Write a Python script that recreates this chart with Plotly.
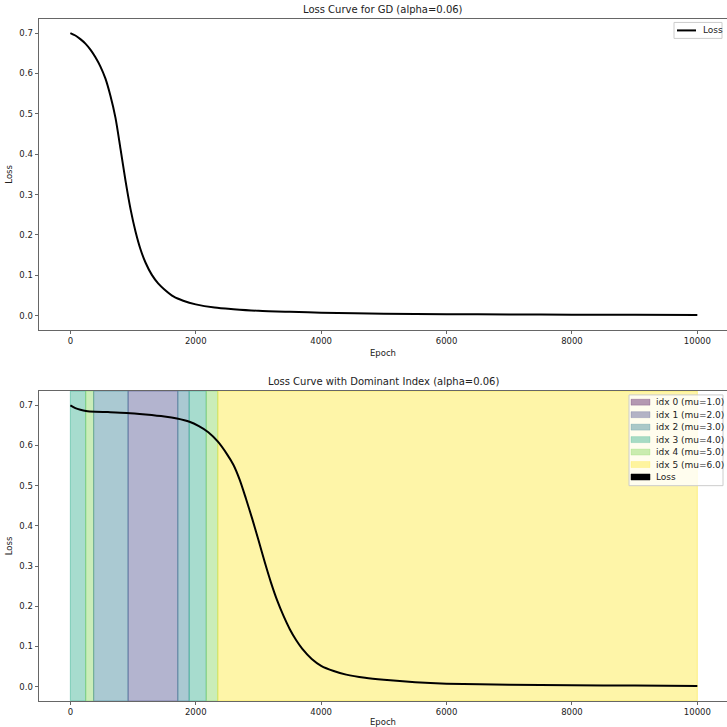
import plotly.graph_objects as go

# ---------------- data ----------------
gd_epochs = [0, 80, 160, 240, 320, 400, 480, 560, 640, 720, 800, 880, 960, 1040, 1120,
             1200, 1300, 1400, 1500, 1650, 1800, 2000, 2300, 2600, 3000, 3500, 4000,
             5000, 6000, 7000, 8000, 9000, 10000]
gd_loss = [0.700, 0.694, 0.685, 0.674, 0.659, 0.640, 0.617, 0.587, 0.544, 0.490, 0.413,
           0.334, 0.264, 0.208, 0.164, 0.131, 0.101, 0.080, 0.065, 0.047, 0.037, 0.028,
           0.020, 0.016, 0.012, 0.0095, 0.0075, 0.005, 0.0038, 0.003, 0.0025, 0.002, 0.0018]

dom_epochs = [0, 80, 160, 250, 400, 600, 900, 1200, 1500, 1700, 1900, 2050, 2200, 2350,
              2500, 2600, 2700, 2800, 2900, 3000, 3100, 3200, 3300, 3400, 3500, 3600,
              3700, 3850, 4000, 4200, 4400, 4700, 5000, 5500, 6000, 7000, 8000, 9000, 10000]
dom_loss = [0.700, 0.693, 0.689, 0.686, 0.684, 0.683, 0.681, 0.677, 0.672, 0.667, 0.659,
            0.648, 0.633, 0.610, 0.578, 0.552, 0.515, 0.468, 0.418, 0.365, 0.310, 0.259,
            0.214, 0.176, 0.143, 0.116, 0.094, 0.069, 0.052, 0.039, 0.030, 0.022, 0.017,
            0.011, 0.0075, 0.005, 0.0035, 0.0027, 0.002]

band_start = [0, 245, 372, 921, 1714, 1895, 2167, 2352]
band_end = [245, 372, 921, 1714, 1895, 2167, 2352, 10000]
band_idx = [3, 4, 2, 1, 2, 3, 4, 5]

mu_values = [1.0, 2.0, 3.0, 4.0, 5.0, 6.0]
idx_colors = ["#440154", "#414487", "#2a788e", "#22a884", "#7ad151", "#fde725"]

x_ticks = [0, 2000, 4000, 6000, 8000, 10000]
x_tick_text = ["0", "2000", "4000", "6000", "8000", "10000"]
y_ticks = [0.0, 0.1, 0.2, 0.3, 0.4, 0.5, 0.6, 0.7]

title_top = "Loss Curve for GD (alpha=0.06)"
title_bottom = "Loss Curve with Dominant Index (alpha=0.06)"
loss_label = "Loss"


def rgba(hexc, a):
    h = hexc.lstrip("#")
    r, g, b = int(h[0:2], 16), int(h[2:4], 16), int(h[4:6], 16)
    return f"rgba({r},{g},{b},{a})"


W, H = 727, 727
ML = 39
FONT = "DejaVu Sans"
TXT = "#222222"
SPINE = "#666666"


def px(x):
    return (x - ML) / (W - ML)


def py(y):
    return 1 - y / H


fig = go.Figure()

# top chart
fig.add_trace(go.Scatter(x=gd_epochs, y=gd_loss, mode="lines", name=loss_label,
                         line=dict(color="black", width=2, shape="spline", smoothing=0.8),
                         xaxis="x", yaxis="y", showlegend=False))

# bottom chart bands
for s, e, k in zip(band_start, band_end, band_idx):
    fig.add_shape(type="rect", xref="x2", yref="y2 domain", x0=s, x1=e, y0=0, y1=1,
                  fillcolor=rgba(idx_colors[k], 0.4),
                  line=dict(color=rgba(idx_colors[k], 0.45), width=1), layer="below")

fig.add_trace(go.Scatter(x=dom_epochs, y=dom_loss, mode="lines", name=loss_label,
                         line=dict(color="black", width=2, shape="spline", smoothing=0.8),
                         xaxis="x2", yaxis="y2", showlegend=False))

fig.add_annotation(text=title_top, xref="paper", yref="paper", x=0.5, y=py(10),
                   xanchor="center", yanchor="middle", showarrow=False,
                   font=dict(family=FONT, size=10, color=TXT))
fig.add_annotation(text=title_bottom, xref="paper", yref="paper", x=0.5, y=py(383),
                   xanchor="center", yanchor="middle", showarrow=False,
                   font=dict(family=FONT, size=10, color=TXT))

LEG_FS = 9

# ---- top legend (drawn manually to match compact matplotlib legend) ----
fig.add_shape(type="rect", xref="paper", yref="paper", x0=px(674), x1=px(722),
              y0=py(38.5), y1=py(22.5), fillcolor="rgba(255,255,255,0.8)",
              line=dict(color="#cccccc", width=1), layer="above")
fig.add_shape(type="line", xref="paper", yref="paper", x0=px(677), x1=px(696),
              y0=py(30.5), y1=py(30.5), line=dict(color="black", width=2), layer="above")
fig.add_annotation(text=loss_label, xref="paper", yref="paper", x=px(701), y=py(30.5),
                   xanchor="left", yanchor="middle", showarrow=False,
                   font=dict(family=FONT, size=LEG_FS, color=TXT))

# ---- bottom legend ----
fig.add_shape(type="rect", xref="paper", yref="paper", x0=px(629), x1=px(723),
              y0=py(487), y1=py(396), fillcolor="rgba(255,255,255,0.8)",
              line=dict(color="#cccccc", width=1), layer="above")
row_y0 = 403.3
row_dy = 12.5
labels = [f"idx {k} (mu={mu:.1f})" for k, mu in enumerate(mu_values)] + [loss_label]
fills = [rgba(c, 0.4) for c in idx_colors] + ["black"]
for i, (lab, fc) in enumerate(zip(labels, fills)):
    yc = row_y0 + i * row_dy
    fig.add_shape(type="rect", xref="paper", yref="paper", x0=px(631), x1=px(650),
                  y0=py(yc + 3), y1=py(yc - 3), fillcolor=fc,
                  line=dict(color=fc, width=0.5), layer="above")
    fig.add_annotation(text=lab, xref="paper", yref="paper", x=px(654), y=py(yc),
                       xanchor="left", yanchor="middle", showarrow=False,
                       font=dict(family=FONT, size=LEG_FS, color=TXT))

axis_common = dict(showgrid=False, zeroline=False, showline=True, linecolor=SPINE,
                   linewidth=1, ticks="outside", ticklen=3.5, tickwidth=1, tickcolor=SPINE,
                   tickfont=dict(family=FONT, size=8.5, color=TXT))

xr = [-500, 10473]
yr = [-0.035, 0.735]
title_font = dict(family=FONT, size=8.5, color=TXT)

fig.update_layout(
    width=W, height=H,
    margin=dict(l=ML, r=0, t=0, b=0),
    paper_bgcolor="white", plot_bgcolor="white",
    font=dict(family=FONT, size=8.5, color=TXT),
    showlegend=False,
    xaxis=dict(domain=[0, 1], range=xr, tickvals=x_ticks, ticktext=x_tick_text,
               mirror=True, anchor="y",
               title=dict(text="Epoch", font=title_font, standoff=4), **axis_common),
    yaxis=dict(domain=[py(330.7), py(19)], range=yr, tickvals=y_ticks,
               tickformat=".1f", anchor="x",
               title=dict(text="Loss", font=title_font, standoff=5), **axis_common),
    xaxis2=dict(domain=[0, 1], range=xr, tickvals=x_ticks, ticktext=x_tick_text,
                mirror=True, anchor="y2",
                title=dict(text="Epoch", font=title_font, standoff=4), **axis_common),
    yaxis2=dict(domain=[py(702.7), py(392.3)], range=yr, tickvals=y_ticks,
                tickformat=".1f", anchor="x2",
                title=dict(text="Loss", font=title_font, standoff=5), **axis_common),
)

fig.write_html("out.html", config={"displayModeBar": False},
               post_script="document.body.style.margin='0';")
